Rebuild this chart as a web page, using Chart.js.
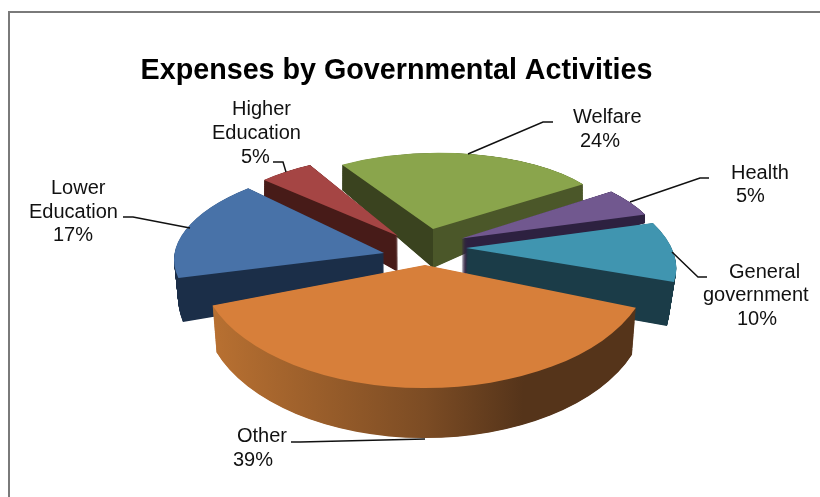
<!DOCTYPE html>
<html lang="en">
<head>
    <meta charset="utf-8"/>
    <title>Expenses by Governmental Activities</title>
    <script src="https://cdn.jsdelivr.net/npm/chart.js"></script>
    <style>
        html, body { margin: 0; padding: 0; background: #fff; overflow: hidden; }
        #frame { position: absolute; left: 8px; top: 11px; right: 0; bottom: 0; border-left: 2px solid #7a7a7a; border-top: 2px solid #7a7a7a; }
        #chart { position: absolute; left: 0; top: 0; }
    </style>
</head>
<body>
<div id="frame"></div>
<canvas id="chart" width="820" height="497"></canvas>
<script>
    // Data, clockwise from the back of the pie
    const categories = ['Welfare', 'Health', 'General government', 'Other', 'Lower Education', 'Higher Education'];
    const values = [24, 5, 10, 39, 17, 5];

    // Colours per slice
    const topColors = ['#8aa54c', '#71588f', '#4095b0', '#d77f3a', '#4872a8', '#a54544'];
    const sideColors = [
        [[0, '#3a431f'], [0.5, '#3a431f'], [0.5, '#4b5729'], [1, '#4b5729']],
        [[0, '#2d2140'], [1, '#2d2140']],
        [[0, '#1b3c48'], [1, '#1b3c48']],
        [[0, '#bb7232'], [0.5, '#7c4c24'], [0.72, '#55341a'], [1, '#55341a']],
        [[0, '#1b2e48'], [1, '#1b2e48']],
        [[0, '#471b18'], [1, '#471b18']]
    ];

    // Fake 3D view: each slice is exploded and tilted on its own, [a, b, c, d, e, f]
    // like ctx.transform, for a pie of radius 1 around the origin
    const topFaces = [
        [180.6, -3.3, 0.8, 76, 433, 229],
        [198.6, -2, 28.5, 81.9, 461.5, 238.5],
        [206, 0.7, 42.7, 95.4, 466, 248],
        [225, 0, 0, 123, 425, 265],
        [208, 5.3, -28, 91, 384, 253],
        [185, 3.2, -5.2, 80, 398, 236]
    ];
    const bottomFaces = [
        [180.6, -14.9, 0.8, 98.7, 433, 268],
        [198.6, -27.8, 28.5, 93.5, 461.5, 275],
        [201, -10.2, 39, 130.8, 465, 290],
        [221, 0, 0, 128, 425, 310],
        [204.6, 5.2, -23.9, 118, 384, 288],
        [185, -3.5, -5.2, 117, 398, 272]
    ];
    const drawOrder = [0, 1, 5, 4, 2, 3];

    // Label text and where it sits
    const labelLines = [['Welfare'], ['Health'], ['General', 'government'], ['Other'], ['Lower', 'Education'], ['Higher', 'Education']];
    const labelSpots = [
        [[573, 123], [580, 147]],
        [[731, 179], [736, 202]],
        [[729, 278], [703, 301], [737, 325]],
        [[237, 442], [233, 466]],
        [[51, 194], [29, 218], [53, 241]],
        [[232, 115], [212, 139], [241, 163]]
    ];
    const leaderLines = [
        [[468, 154], [543, 122], [553, 122]],
        [[630, 202], [700, 178], [709, 178]],
        [[672, 252], [698, 277], [707, 277]],
        [[425, 439], [300, 442], [291, 442]],
        [[190, 228], [133, 217], [123, 217]],
        [[286, 172], [283, 162], [273, 162]]
    ];

    function faceAt(i, t) {
        return topFaces[i].map((v, k) => v + (bottomFaces[i][k] - v) * t);
    }

    function drawSlice(ctx, arc, face, fill) {
        const R = arc.outerRadius;
        const [a, b, c, d, e, f] = face;
        const opts = arc.options;
        ctx.save();
        ctx.transform(a / R, b / R, c / R, d / R, e - (a * arc.x + c * arc.y) / R, f - (b * arc.x + d * arc.y) / R);
        arc.options = Object.assign({}, opts, { backgroundColor: fill });
        arc.draw(ctx);
        arc.options = opts;
        ctx.restore();
    }

    const pie3d = {
        id: 'pie3d',
        beforeDatasetsDraw(chart) {
            const ctx = chart.ctx;
            const arcs = chart.getDatasetMeta(0).data;
            drawOrder.forEach(i => {
                const arc = arcs[i];
                const R = arc.outerRadius;
                const side = ctx.createLinearGradient(arc.x - R, 0, arc.x + R, 0);
                sideColors[i].forEach(s => side.addColorStop(s[0], s[1]));
                const steps = Math.ceil((bottomFaces[i][5] - topFaces[i][5]) * 2);
                for (let k = steps; k > 0; k--) {
                    drawSlice(ctx, arc, faceAt(i, k / steps), side);
                }
                drawSlice(ctx, arc, topFaces[i], topColors[i]);
            });
            return false;
        },
        afterDraw(chart) {
            const ctx = chart.ctx;
            ctx.save();
            ctx.strokeStyle = '#111';
            ctx.lineWidth = 1.5;
            leaderLines.forEach(pts => {
                ctx.beginPath();
                pts.forEach((p, n) => n ? ctx.lineTo(p[0], p[1]) : ctx.moveTo(p[0], p[1]));
                ctx.stroke();
            });
            ctx.fillStyle = '#111';
            ctx.font = '20px "Liberation Sans"';
            ctx.textAlign = 'left';
            ctx.textBaseline = 'alphabetic';
            categories.forEach((name, i) => {
                const lines = labelLines[i].concat(values[i] + '%');
                lines.forEach((text, n) => ctx.fillText(text, labelSpots[i][n][0], labelSpots[i][n][1]));
            });
            ctx.restore();
        }
    };

    new Chart(document.getElementById('chart'), {
        type: 'pie',
        data: {
            labels: categories,
            datasets: [{
                data: values,
                backgroundColor: topColors,
                borderWidth: 0,
                radius: 150
            }]
        },
        options: {
            responsive: false,
            animation: false,
            rotation: -30,
            layout: { padding: { right: 27 } },
            plugins: {
                legend: { display: false },
                tooltip: { enabled: false },
                title: {
                    display: true,
                    text: 'Expenses by Governmental Activities',
                    color: '#000',
                    font: { family: '"Liberation Sans"', size: 28.7, weight: 'bold' },
                    padding: { top: 54, bottom: 10 }
                }
            }
        },
        plugins: [pie3d]
    });
</script>
</body>
</html>
